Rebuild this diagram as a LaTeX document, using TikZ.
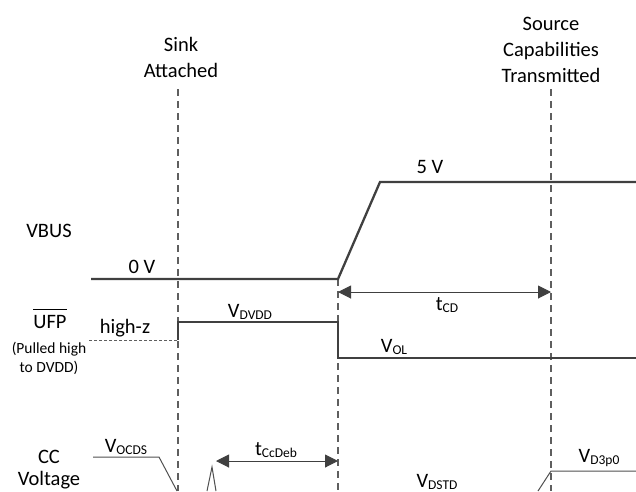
\documentclass[tikz,border=0pt]{standalone}
\usepackage{fontspec}
\setmainfont{Carlito}
\usetikzlibrary{arrows.meta}
\definecolor{sigc}{HTML}{404040}
\definecolor{dashc}{HTML}{5E5E5E}
\definecolor{thinc}{HTML}{505050}
\newcommand{\lowsub}[1]{{\fontsize{13.5}{13.5}\selectfont\raisebox{-2pt}{#1}}}
\begin{document}
\begin{tikzpicture}[x=1pt,y=-1pt,
  lbl/.style={font=\fontsize{20.5}{26}\selectfont, inner sep=0pt, anchor=base, text=black},
  smalllbl/.style={font=\fontsize{15.5}{19}\selectfont, inner sep=0pt, anchor=base, text=black, align=center},
  sig/.style={line width=2.3pt, draw=sigc, line join=miter},
  thinsig/.style={line width=1pt, draw=thinc},
  hiz/.style={line width=1pt, draw=dashc, dash pattern=on 3pt off 2pt},
  marker/.style={line width=1.2pt, draw=dashc, dash pattern=on 7pt off 5pt},
  dim/.style={line width=1pt, draw=sigc, {Triangle[length=13pt,width=13pt]}-{Triangle[length=13pt,width=13pt]}}
]
\useasboundingbox (0,0) rectangle (636,491);

% event markers
\coordinate (m1t) at (178,89);  \coordinate (m1b) at (178,491);
\coordinate (m2t) at (338,279); \coordinate (m2b) at (338,491);
\coordinate (m3t) at (551,89);  \coordinate (m3b) at (551,491);
\draw[marker] (m1t) -- (m1b);
\draw[marker] (m2t) -- (m2b);
\draw[marker] (m3t) -- (m3b);

% VBUS
\coordinate (vb0) at (91,279);
\coordinate (vb1) at (338,279);
\coordinate (vb2) at (380,182);
\coordinate (vb3) at (636,182);
\draw[sig] (vb0) -- (vb1) -- (vb2) -- (vb3);

% UFP
\coordinate (u0) at (89,340);
\coordinate (u1) at (178,340);
\coordinate (u2) at (178,322);
\coordinate (u3) at (338,322);
\coordinate (u4) at (338,358);
\coordinate (u5) at (636,358);
\draw[hiz] (u0) -- (u1);
\draw[sig] (u1) -- (u2) -- (u3) -- (u4) -- (u5);

% CC voltage
\coordinate (c0) at (93,457);
\coordinate (c1) at (159,457);
\coordinate (c2) at (177,491);
\draw[thinsig] (c0) -- (c1) -- (c2);
\coordinate (s0) at (207,491);
\coordinate (s1) at (212,467);
\coordinate (s2) at (216,491);
\draw[thinsig] (s0) -- (s1) -- (s2);
\coordinate (d0) at (538,491);
\coordinate (d1) at (551,471);
\coordinate (d2) at (636,471);
\draw[thinsig] (d0) -- (d1) -- (d2);

% timing arrows
\coordinate (cd0) at (338,292);
\coordinate (cd1) at (551,292);
\draw[dim] (cd0) -- (cd1);
\coordinate (cc0) at (216,461);
\coordinate (cc1) at (338,461);
\draw[dim] (cc0) -- (cc1);

% labels
\node[lbl, align=center] (sink) at (181,77) {Sink\\Attached};
\node[lbl, align=center] (src) at (551,82) {Source\\Capabilities\\Transmitted};
\node[lbl] (vbus) at (49,237) {VBUS};
\node[lbl] (zerov) at (142,273) {0 V};
\node[lbl] (fivev) at (430,173) {5 V};
\node[lbl] (tcd) at (447,310) {t\lowsub{CD}};
\node[lbl] (ufp) at (50,328) {UFP};
\draw[line width=1.1pt, draw=black] ([yshift=5.5pt]ufp.north west) -- ([yshift=5.5pt]ufp.north east);
\node[smalllbl] (pull) at (49,372) {(Pulled high\\to DVDD)};
\node[lbl] (hiztext) at (125,333) {high-z};
\node[lbl] (vdvdd) at (250,317) {V\lowsub{DVDD}};
\node[lbl] (vol) at (394,352) {V\lowsub{OL}};
\node[lbl, align=center, font=\fontsize{20.5}{22}\selectfont] (cc) at (49,485) {CC\\Voltage};
\node[lbl] (vocds) at (126,452) {V\lowsub{OCDS}};
\node[lbl] (tccdeb) at (276,455) {t\lowsub{CcDeb}};
\node[lbl] (vdstd) at (437,487) {V\lowsub{DSTD}};
\node[lbl] (vd3p0) at (599,462) {V\lowsub{D3p0}};
\end{tikzpicture}
\end{document}
